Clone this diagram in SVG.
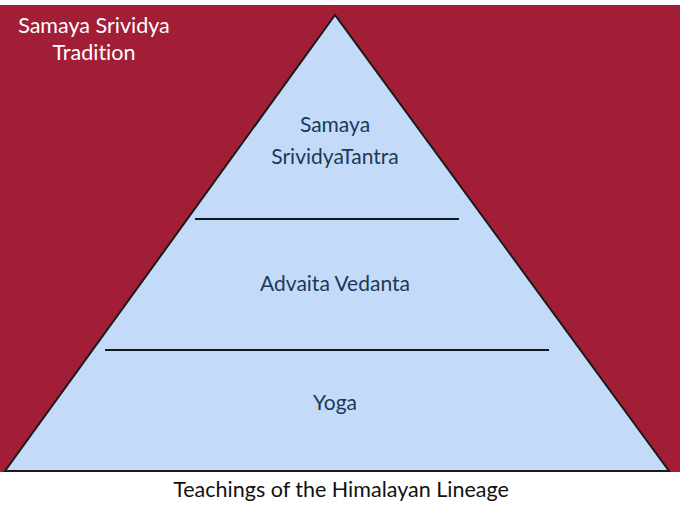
<svg xmlns="http://www.w3.org/2000/svg" width="680" height="510" viewBox="0 0 680 510">
<style>
text{font-family:"Lato","Liberation Sans",sans-serif;text-anchor:middle;font-variant-ligatures:none;font-feature-settings:"liga" 0}
.lbl{font-size:21px;fill:#1B3A55}
.title{font-size:21.5px;fill:#ffffff}
.cap{font-size:21.5px;fill:#111111}
.div{stroke:#111820;stroke-width:2;fill:none}
</style>
<rect x="0" y="0" width="680" height="510" fill="#ffffff"/>
<rect x="0" y="5" width="680" height="467" fill="#A21E37"/>
<g id="title">
<text class="title" x="94" y="33">Samaya Srividya</text>
<text class="title" x="94" y="60">Tradition</text>
</g>
<g id="pyramid">
<polygon points="335,15 5,471 669,471" fill="#C3DBF8" stroke="#1a1a1a" stroke-width="2" stroke-linejoin="miter"/>
</g>
<g id="connectors">
<line class="div" x1="195" y1="219" x2="459" y2="219"/>
<line class="div" x1="105" y1="350" x2="549" y2="350"/>
</g>
<g id="tier-top">
<text class="lbl" x="335" y="132">Samaya</text>
<text class="lbl" x="335" y="164">SrividyaTantra</text>
</g>
<g id="tier-middle">
<text class="lbl" x="335" y="291">Advaita Vedanta</text>
</g>
<g id="tier-bottom">
<text class="lbl" x="335" y="410">Yoga</text>
</g>
<g id="caption">
<text class="cap" x="341" y="497">Teachings of the Himalayan Lineage</text>
</g>
</svg>
